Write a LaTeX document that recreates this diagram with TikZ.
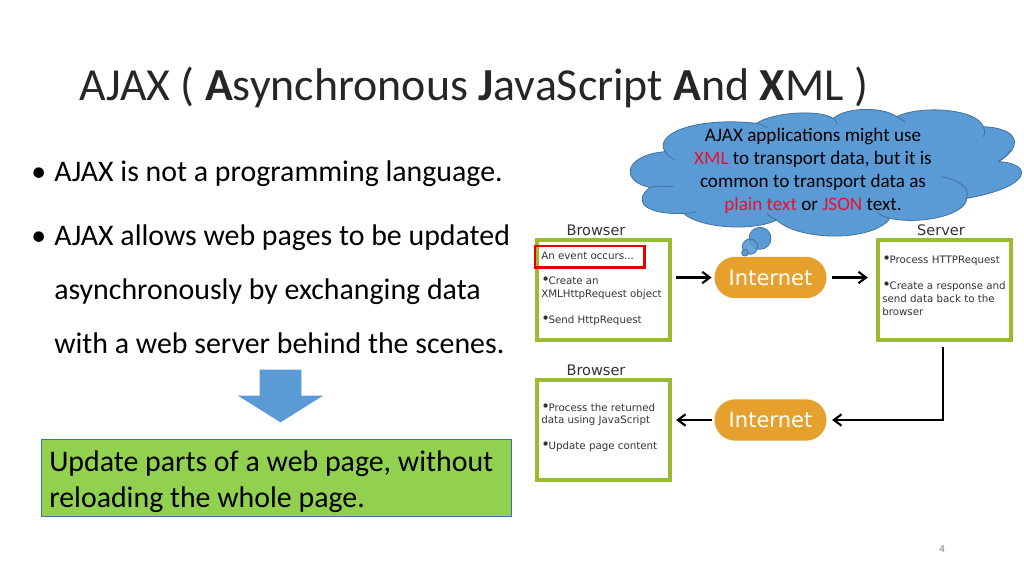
\documentclass[tikz,border=0pt]{standalone}
\usepackage{fontspec}
\setmainfont{Carlito}
\newfontfamily\boxfont{DejaVu Sans}
\usetikzlibrary{arrows.meta}
\definecolor{cloudblue}{HTML}{5B9BD5}
\definecolor{cloudedge}{HTML}{41719C}
\definecolor{boxgreen}{HTML}{9BBB2F}
\definecolor{notegreen}{HTML}{92D050}
\definecolor{pillorange}{HTML}{E5A02D}
\definecolor{notered}{HTML}{E8112D}
\newcommand{\stepbullet}{{\fontsize{11}{0}\selectfont •}\kern-1pt}
\tikzset{
	stepframe/.style={draw=boxgreen,line width=3pt,fill=white,minimum width=100pt,minimum height=75pt,inner sep=0pt},
	pill/.style={fill=pillorange,rounded corners=15.5pt,minimum width=84pt,minimum height=31pt,inner sep=0pt,text=white,font=\boxfont\fontsize{15.8}{18}\selectfont},
	steptext/.style={anchor=north west,inner sep=0pt,align=left,text=black!80,font=\boxfont\fontsize{7.7}{9.6}\selectfont},
	heading/.style={inner sep=0pt,text=black!80,font=\boxfont\fontsize{10.9}{13}\selectfont},
	bodytext/.style={anchor=base west,inner sep=0pt,font=\fontsize{22.4}{27}\selectfont},
	flow/.style={line width=1.6pt,-{Straight Barb[length=2mm,width=3mm]}},
}
\begin{document}
\begin{tikzpicture}[x=0.75pt,y=-0.75pt]
	\useasboundingbox (0,0) rectangle (1024,576);
	\node[anchor=base west,inner sep=0pt,text=black!85,font=\fontsize{34.4}{40}\selectfont] (title) at (79,100)
		{AJAX ( \textbf{A}synchronous \textbf{J}avaScript \textbf{A}nd \textbf{X}ML )};

	\node[bodytext] (bulleta) at (31,181) {•};
	\node[bodytext] (linea) at (54,181) {AJAX is not a programming language.};
	\node[bodytext] (bulletb) at (31,245) {•};
	\node[bodytext] (lineb) at (54,245) {AJAX allows web pages to be updated};
	\node[bodytext] (linec) at (54,299) {asynchronously by exchanging data};
	\node[bodytext] (lined) at (54,353) {with a web server behind the scenes.};

	\draw[fill=cloudblue,draw=cloudblue] (260,370) -- (301,370) -- (301,396) -- (322,396) -- (280.5,422) -- (239,396) -- (260,396) -- cycle;
	\node[draw=cloudedge,fill=notegreen,line width=0.75pt,anchor=north west,minimum width=352.5pt,minimum height=57.5pt,inner sep=0pt] (update) at (41,439) {};
	\node[anchor=north west,inner sep=0pt,align=left,font=\fontsize{22.4}{27}\selectfont] (updatetext) at (49,450)
		{Update parts of a web page, without\\reloading the whole page.};

	\begin{scope}[shift={(620,100)},x=0.25pt,y=-0.25pt,draw=cloudedge,line width=0.6pt]
		\draw[fill=cloudblue] (135,155) .. controls (100,100) and (230,50) .. (410,70)
			.. controls (450,40) and (590,25) .. (640,55)
			.. controls (680,20) and (790,20) .. (830,50)
			.. controls (900,15) and (1070,25) .. (1090,80)
			.. controls (1200,85) and (1210,140) .. (1135,185)
			.. controls (1240,190) and (1240,260) .. (1040,295)
			.. controls (1040,345) and (900,375) .. (810,355)
			.. controls (760,425) and (540,425) .. (470,360)
			.. controls (400,395) and (240,385) .. (190,340)
			.. controls (90,345) and (30,310) .. (90,262)
			.. controls (0,245) and (10,165) .. (135,155) -- cycle;
		\draw (135,155) .. controls (140,165) and (150,172) .. (165,180);
		\draw (90,262) .. controls (110,258) and (135,258) .. (160,260);
		\draw (410,70) .. controls (420,72) and (435,78) .. (445,85);
		\draw (640,55) .. controls (645,60) and (650,65) .. (652,72);
		\draw (830,50) .. controls (840,55) and (850,60) .. (855,68);
		\draw (1090,80) .. controls (1095,90) and (1095,100) .. (1090,110);
		\draw (1135,185) .. controls (1150,175) and (1165,165) .. (1172,150);
		\draw (965,230) .. controls (1020,240) and (1050,265) .. (1040,295);
		\draw (810,355) .. controls (795,352) and (780,345) .. (770,335);
		\draw (470,360) .. controls (460,355) and (450,350) .. (440,340);
		\draw (190,340) .. controls (205,340) and (215,338) .. (230,335);
		\draw[fill=cloudblue] (420,415) circle (33);
		\draw[fill=cloudblue,fill opacity=0.9] (390,440) circle (23);
		\draw[fill=cloudblue] (375,458) circle (10);
	\end{scope}
	\node[align=center,inner sep=0pt,text=black,font=\fontsize{14.35}{17.25}\selectfont] (cloudtext) at (813,171)
		{AJAX applications might use\\\textcolor{notered}{XML} to transport data, but it is\\common to transport data as\\\textcolor{notered}{plain text} or \textcolor{notered}{JSON} text.};

	\node[stepframe] (browsera) at (603.5,290) {};
	\node[stepframe] (server) at (944.5,290) {};
	\node[stepframe] (browserb) at (603.5,429.5) {};
	\node[heading] (browseratitle) at (596,230) {Browser};
	\node[heading] (servertitle) at (941,230) {Server};
	\node[heading] (browserbtitle) at (596,370) {Browser};

	\node[steptext] (browseratext) at (541,251.5) {An event occurs...\\[9.6pt]\stepbullet Create an\\XMLHttpRequest object\\[9.6pt]\stepbullet Send HttpRequest};
	\node[steptext] (servertext) at (882,256) {\stepbullet Process HTTPRequest\\[9.6pt]\stepbullet Create a response and\\send data back to the\\browser};
	\node[steptext] (browserbtext) at (541,403) {\stepbullet Process the returned\\data using JavaScript\\[9.6pt]\stepbullet Update page content};
	\node[draw=red!90!black,line width=2.2pt,anchor=north west,minimum width=82pt,minimum height=16pt,inner sep=0pt] (event) at (533.5,244.5) {};

	\node[pill] (interneta) at (770.5,277.5) {Internet};
	\node[pill] (internetb) at (770.5,420) {Internet};

	\draw[flow,shorten <=3pt,shorten >=2pt] (browsera.east |- interneta) -- (interneta.west);
	\draw[flow,shorten <=4pt,shorten >=6pt] (interneta.east) -- (server.west |- interneta);
	\draw[flow,shorten <=4pt,shorten >=4pt] (server.south) ++(-1.5,0) |- (internetb.east);
	\draw[flow,shorten <=2pt,shorten >=3pt] (internetb.west) -- (browserb.east |- internetb);

	\node[inner sep=0pt,text=black!55,font=\fontsize{8}{10}\selectfont] (pagenum) at (942,549) {4};
\end{tikzpicture}
\end{document}
